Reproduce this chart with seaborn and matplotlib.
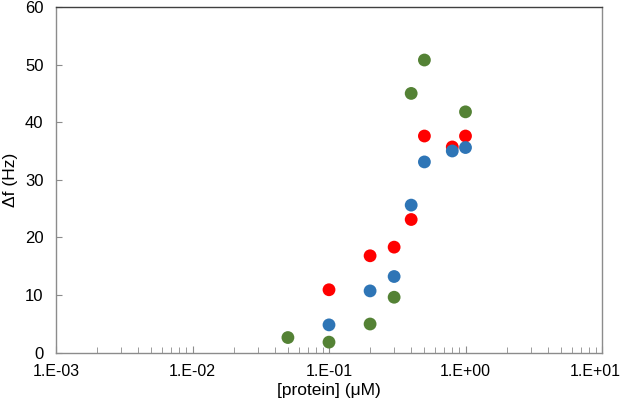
import pandas as pd
import matplotlib
matplotlib.use('Agg')
import matplotlib.pyplot as plt
import matplotlib.ticker as mticker
import matplotlib.transforms as mtransforms
import seaborn as sns

# datos
conc_rojo = [0.1, 0.2, 0.3, 0.4, 0.5, 0.8, 1.0]
df_rojo = [10.9, 16.8, 18.3, 23.1, 37.6, 35.7, 37.6]

conc_azul = [0.1, 0.2, 0.3, 0.4, 0.5, 0.8, 1.0]
df_azul = [4.8, 10.7, 13.2, 25.6, 33.1, 35.0, 35.6]

conc_verde = [0.05, 0.1, 0.2, 0.3, 0.4, 0.5, 1.0]
df_verde = [2.6, 1.8, 4.95, 9.6, 45.0, 50.8, 41.8]

series = ['rojo', 'azul', 'verde']
colores = {'rojo': '#FF0000', 'azul': '#2E75B6', 'verde': '#548235'}
x_ticks = [1e-3, 1e-2, 1e-1, 1e0, 1e1]
x_labels = ['1.E-03', '1.E-02', '1.E-01', '1.E+00', '1.E+01']

df = pd.concat([
    pd.DataFrame({'conc': conc_rojo, 'df': df_rojo, 'serie': 'rojo'}),
    pd.DataFrame({'conc': conc_azul, 'df': df_azul, 'serie': 'azul'}),
    pd.DataFrame({'conc': conc_verde, 'df': df_verde, 'serie': 'verde'}),
])

sns.set_style('white')
plt.rcParams['font.family'] = ['Liberation Sans', 'DejaVu Sans']
plt.rcParams['text.color'] = 'black'
plt.rcParams['axes.labelcolor'] = 'black'
plt.rcParams['xtick.color'] = 'black'
plt.rcParams['ytick.color'] = 'black'

fig = plt.figure(figsize=(6.25, 4.05), dpi=100)
ax = fig.add_axes([0.0896, 0.1296, 0.8736, 0.853])

sns.scatterplot(data=df, x='conc', y='df', hue='serie', hue_order=series,
                palette=colores, s=85, linewidth=0, legend=False, ax=ax)

ax.set_xscale('log')
ax.set_xlim(1e-3, 1e1)
ax.set_ylim(0, 60)
ax.set_xticks(x_ticks)
ax.set_xticklabels(x_labels)
ax.xaxis.set_minor_locator(mticker.LogLocator(base=10, subs=range(2, 10)))
ax.xaxis.set_minor_formatter(mticker.NullFormatter())
ax.set_yticks(range(0, 61, 10))

for lado in ['left', 'right', 'bottom']:
    ax.spines[lado].set_color('#8c8c8c')
    ax.spines[lado].set_linewidth(1.0)
ax.spines['top'].set_color('#404040')
ax.spines['top'].set_linewidth(1.0)

ax.tick_params(axis='x', which='major', direction='in', length=5, color='#8c8c8c',
               labelsize=11.5, pad=8, bottom=True)
ax.tick_params(axis='x', which='minor', direction='in', length=4, color='#8c8c8c', bottom=True)
ax.tick_params(axis='y', which='major', direction='in', length=4, color='#8c8c8c',
               labelsize=12, pad=9, left=True)

# la última etiqueta se corre un poco a la izquierda para que no se corte
ultima = ax.get_xticklabels()[-1]
ultima.set_transform(ultima.get_transform() +
                     mtransforms.ScaledTranslation(-5 / 72, 0, fig.dpi_scale_trans))

ax.set_xlabel('[protein] (μM)', fontsize=12.5, labelpad=3)
ax.set_ylabel('Δf (Hz)', fontsize=12.5, labelpad=5)

fig.savefig('out.png', dpi=100)
